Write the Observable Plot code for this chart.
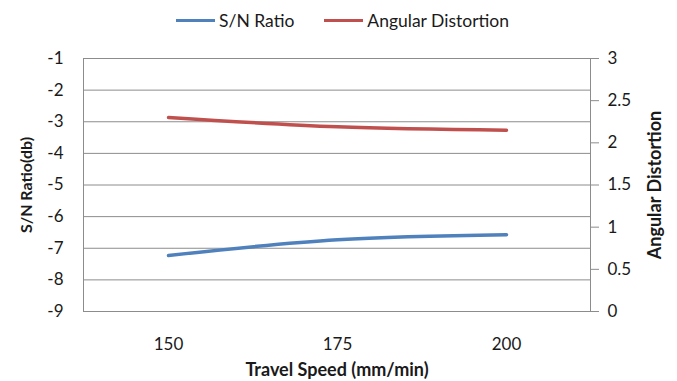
<!DOCTYPE html>
<html>
<head>
<meta charset="utf-8">
<script src="https://cdn.jsdelivr.net/npm/d3@7"></script>
<script src="https://cdn.jsdelivr.net/npm/@observablehq/plot@0.6"></script>
<style>
  body { margin: 0; background: #fff; font-family: Lato, "Open Sans", sans-serif; }
  #legend { height: 40px; display: flex; justify-content: center; align-items: center; gap: 30px; font-size: 17.5px; color: #1a1a1a; padding-left: 8px; box-sizing: border-box; }
  #legend .item { display: flex; align-items: center; gap: 4px; }
  #legend .swatch { width: 39px; height: 3px; }
</style>
</head>
<body>
<div id="legend"></div>
<div id="chart"></div>
<script>
const speeds = ["150", "175", "200"];
const snRatio = [-7.23, -6.73, -6.57];
const angularDistortion = [2.30, 2.19, 2.15];
const leftTicks = [-9, -8, -7, -6, -5, -4, -3, -2, -1];
const rightTicks = [0, 0.5, 1, 1.5, 2, 2.5, 3];
const seriesNames = ["S/N Ratio", "Angular Distortion"];
const seriesColors = ["#4F81BD", "#C0504D"];

// map right axis domain [0,3] onto left axis domain [-9,-1]
const toLeft = v => -9 + v * (8 / 3);

const snData = speeds.map((s, i) => ({speed: s, value: snRatio[i]}));
const adData = speeds.map((s, i) => ({speed: s, value: toLeft(angularDistortion[i])}));

const legend = document.getElementById("legend");
seriesNames.forEach((name, i) => {
  const item = document.createElement("div");
  item.className = "item";
  item.innerHTML = `<span class="swatch" style="background:${seriesColors[i]}"></span><span>${name}</span>`;
  legend.appendChild(item);
});

const gridColor = "#8c8c8c";
const chart = Plot.plot({
  width: 677,
  height: 341,
  marginTop: 18,
  marginBottom: 70,
  marginLeft: 83,
  marginRight: 87,
  style: {fontFamily: "Lato, 'Open Sans', sans-serif", fontSize: "17px", color: "#1a1a1a"},
  x: {type: "point", domain: speeds, padding: 0.5},
  y: {domain: [-9, -1]},
  marks: [
    Plot.gridY(leftTicks, {stroke: gridColor, strokeOpacity: 1}),
    Plot.frame({stroke: gridColor}),
    Plot.axisY(leftTicks, {anchor: "left", tickSize: 0, tickPadding: 20, label: null, tickFormat: d => String(d)}),
    Plot.axisY(rightTicks.map(toLeft), {anchor: "right", tickSize: 8, tickPadding: 9, stroke: gridColor,
      tickFormat: (d, i) => String(rightTicks[i]), label: null}),
    Plot.axisX(speeds, {anchor: "bottom", tickSize: 0, tickPadding: 26, label: null}),
    Plot.text(["S/N Ratio(db)"], {frameAnchor: "left", dx: -57, rotate: -90, textAnchor: "middle", lineAnchor: "middle", fontWeight: "bold", fontSize: 16}),
    Plot.text(["Angular Distortion"], {frameAnchor: "right", dx: 65, rotate: -90, textAnchor: "middle", lineAnchor: "middle", fontWeight: "bold", fontSize: 18}),
    Plot.text(["Travel Speed (mm/min)"], {frameAnchor: "bottom", dy: 59, lineAnchor: "middle", fontWeight: "bold", fontSize: 18}),
    Plot.line(snData, {x: "speed", y: "value", stroke: seriesColors[0], strokeWidth: 3.5, curve: "monotone-x"}),
    Plot.line(adData, {x: "speed", y: "value", stroke: seriesColors[1], strokeWidth: 3.5, curve: "monotone-x"})
  ]
});
document.getElementById("chart").appendChild(chart);
</script>
</body>
</html>
